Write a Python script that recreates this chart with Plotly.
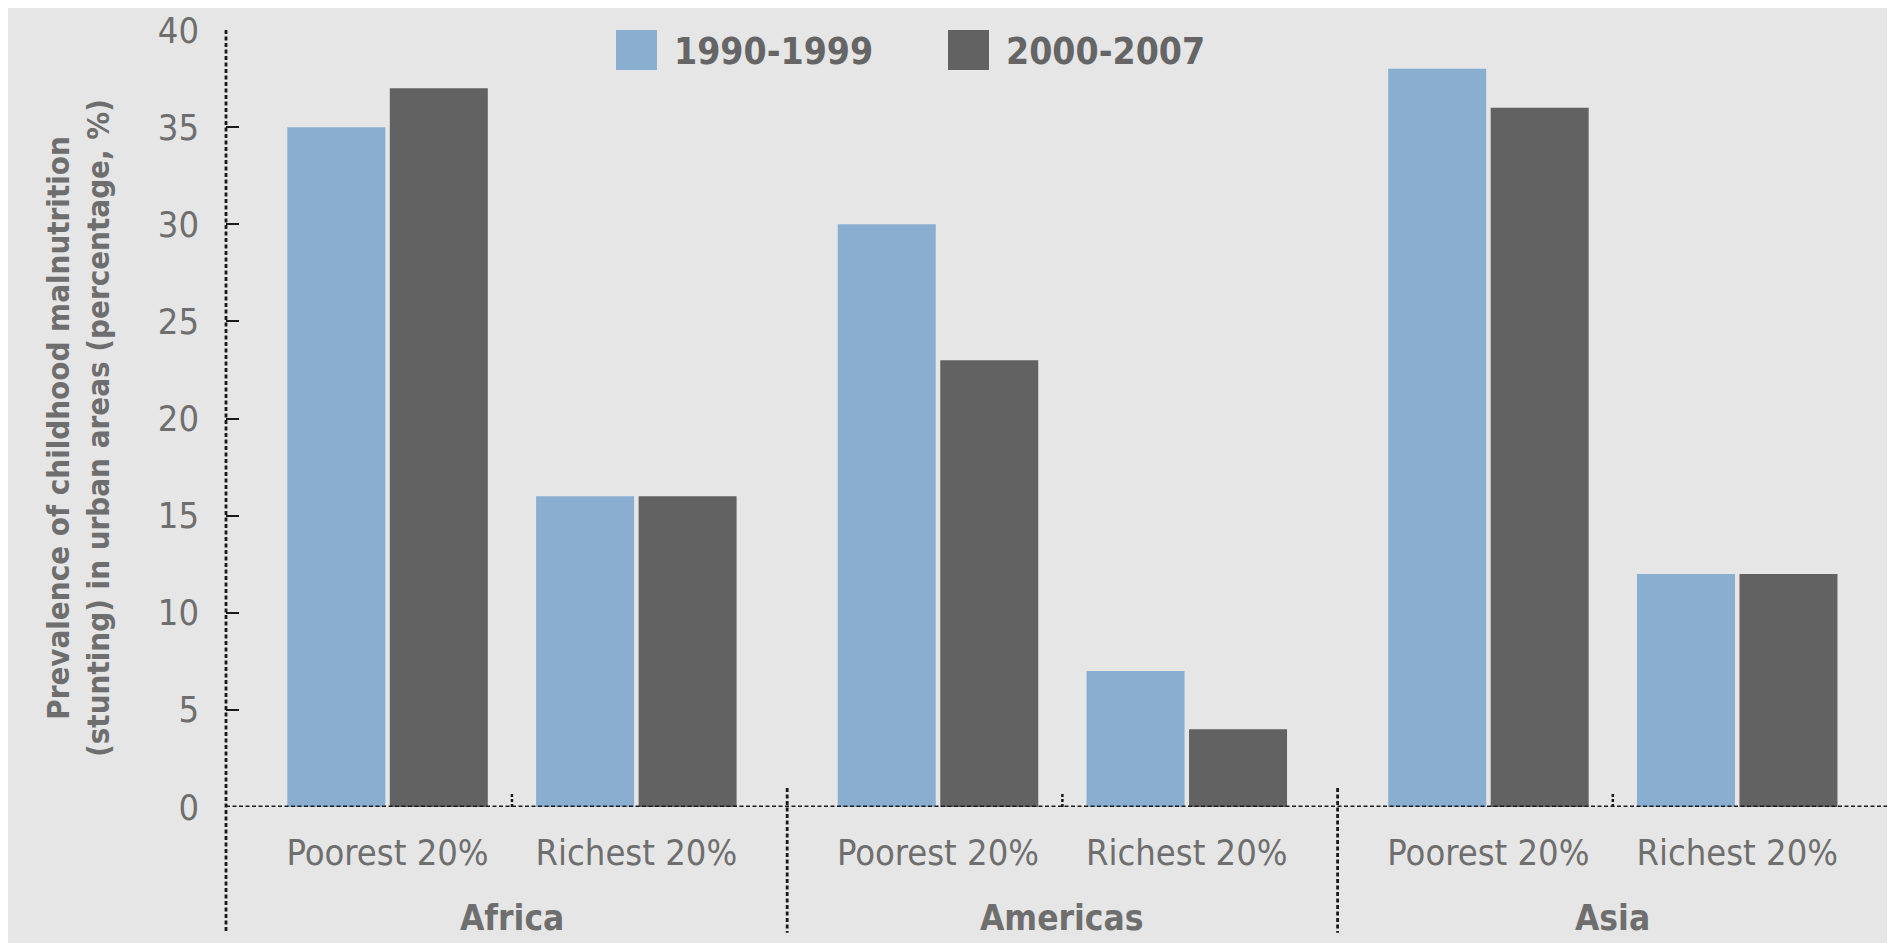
import plotly.graph_objects as go

# ---------------- data ----------------
regions = ["Africa", "Americas", "Asia"]
groups = ["Poorest 20%", "Richest 20%"]
series_names = ["1990-1999", "2000-2007"]
values_1990_1999 = [35, 16, 30, 7, 38, 12]   # Africa P, Africa R, Americas P, Americas R, Asia P, Asia R
values_2000_2007 = [37, 16, 23, 4, 36, 12]
y_ticks = [0, 5, 10, 15, 20, 25, 30, 35, 40]
y_title = "Prevalence of childhood malnutrition<br>(stunting) in urban areas (percentage, %)"

# ---------------- style ----------------
OFF = 8                      # page body margin in the browser
W, H = 1895 - OFF, 943 - OFF
ML, MR, MT, MB = 226 - OFF, 2, 28 - OFF, 136
PW, PH = W - ML - MR, H - MT - MB
BG = "#e6e6e6"
C_LIGHT = "#8aaecf"
C_DARK = "#626262"
TXT = "#6e6e6e"
FONT = "DejaVu Sans Condensed, DejaVu Sans, sans-serif"
HALF_PAIR = 0.226  # offset of Poorest/Richest from region centre (axis units)


def px_x(p):
    """reference-screen x pixel -> paper coordinate"""
    return (p - OFF - ML) / PW


def px_y(p):
    """reference-screen y pixel -> paper coordinate"""
    return (H - MB - (p - OFF)) / PH


# category positions on a numeric axis
xpos, xlab = [], []
for ri, r in enumerate(regions):
    for gi, g in enumerate(groups):
        xpos.append(ri + (gi - 0.5) * 2 * HALF_PAIR)
        xlab.append(g)

fig = go.Figure()
colors = [C_LIGHT, C_DARK]
for name, vals, col in zip(series_names, [values_1990_1999, values_2000_2007], colors):
    fig.add_trace(go.Bar(x=xpos, y=vals, name=name, marker=dict(color=col, line=dict(width=0)),
                         showlegend=False))

fig.update_layout(
    width=W, height=H,
    margin=dict(l=ML, r=MR, t=MT, b=MB, pad=0),
    paper_bgcolor=BG, plot_bgcolor=BG,
    barmode="group", bargap=0.176, bargroupgap=0.044,
    font=dict(family=FONT, size=36, color=TXT),
    xaxis=dict(range=[-0.5195, 2.509], tickvals=xpos, ticktext=xlab, ticks="",
               showgrid=False, zeroline=False, showline=False,
               tickfont=dict(size=36, color=TXT), ticklabelstandoff=21),
    yaxis=dict(range=[0, 40], tickvals=y_ticks, ticks="inside", ticklen=13, tickwidth=2,
               tickcolor="#1a1a1a", showgrid=False, zeroline=False, showline=False,
               tickfont=dict(size=36, color=TXT), ticklabelstandoff=26,
               ticklabeloverflow="allow"),
)

LINE = dict(color="#1a1a1a", width=2.8, dash="4px,2.5px")
shapes = []
# y axis dotted line
shapes.append(dict(type="line", xref="paper", yref="paper", x0=0, x1=0, y0=1, y1=px_y(933), line=LINE))
# zero line
shapes.append(dict(type="line", xref="paper", yref="y", x0=0, x1=1, y0=0, y1=0, line=LINE))
# region separators
for ri in range(len(regions)):
    if ri < len(regions) - 1:
        xs = ri + 0.5
        shapes.append(dict(type="line", xref="x", yref="paper", x0=xs, x1=xs,
                           y0=px_y(788), y1=px_y(933), line=LINE))
    else:
        shapes.append(dict(type="line", xref="paper", yref="paper", x0=0.9995, x1=0.9995,
                           y0=px_y(788), y1=px_y(933), line=LINE))
    # short mark between Poorest and Richest
    shapes.append(dict(type="line", xref="x", yref="paper", x0=ri, x1=ri,
                       y0=0, y1=px_y(792), line=dict(color="#1a1a1a", width=2.5, dash="3px,2px")))

# legend (drawn)
legend_items = [(616, 657, 672), (948, 989, 1004)]
annotations = []
for (x0, x1, tx), name, col in zip(legend_items, series_names, colors):
    shapes.append(dict(type="rect", xref="paper", yref="paper", x0=px_x(x0), x1=px_x(x1),
                       y0=px_y(68), y1=px_y(28), fillcolor=col, line=dict(width=0)))
    annotations.append(dict(text="<b>%s</b>" % name, xref="paper", yref="paper", x=px_x(tx), y=px_y(50),
                            xanchor="left", yanchor="middle", showarrow=False,
                            font=dict(size=37, color="#656565", family=FONT)))

# region labels
for ri, r in enumerate(regions):
    annotations.append(dict(text="<b>%s</b>" % r, xref="x", yref="paper", x=ri, y=px_y(918),
                            xanchor="center", yanchor="middle", showarrow=False,
                            font=dict(size=35, color=TXT, family=FONT)))

# y title
annotations.append(dict(text="<b>%s</b>" % y_title.replace("<br>", "</b><br><b>"), xref="paper", yref="paper",
                        x=px_x(78), y=px_y(427), xanchor="center", yanchor="middle",
                        textangle=-90, showarrow=False,
                        font=dict(size=31, color=TXT, family=FONT)))

fig.update_layout(shapes=shapes, annotations=annotations)
fig.write_html("out.html")
